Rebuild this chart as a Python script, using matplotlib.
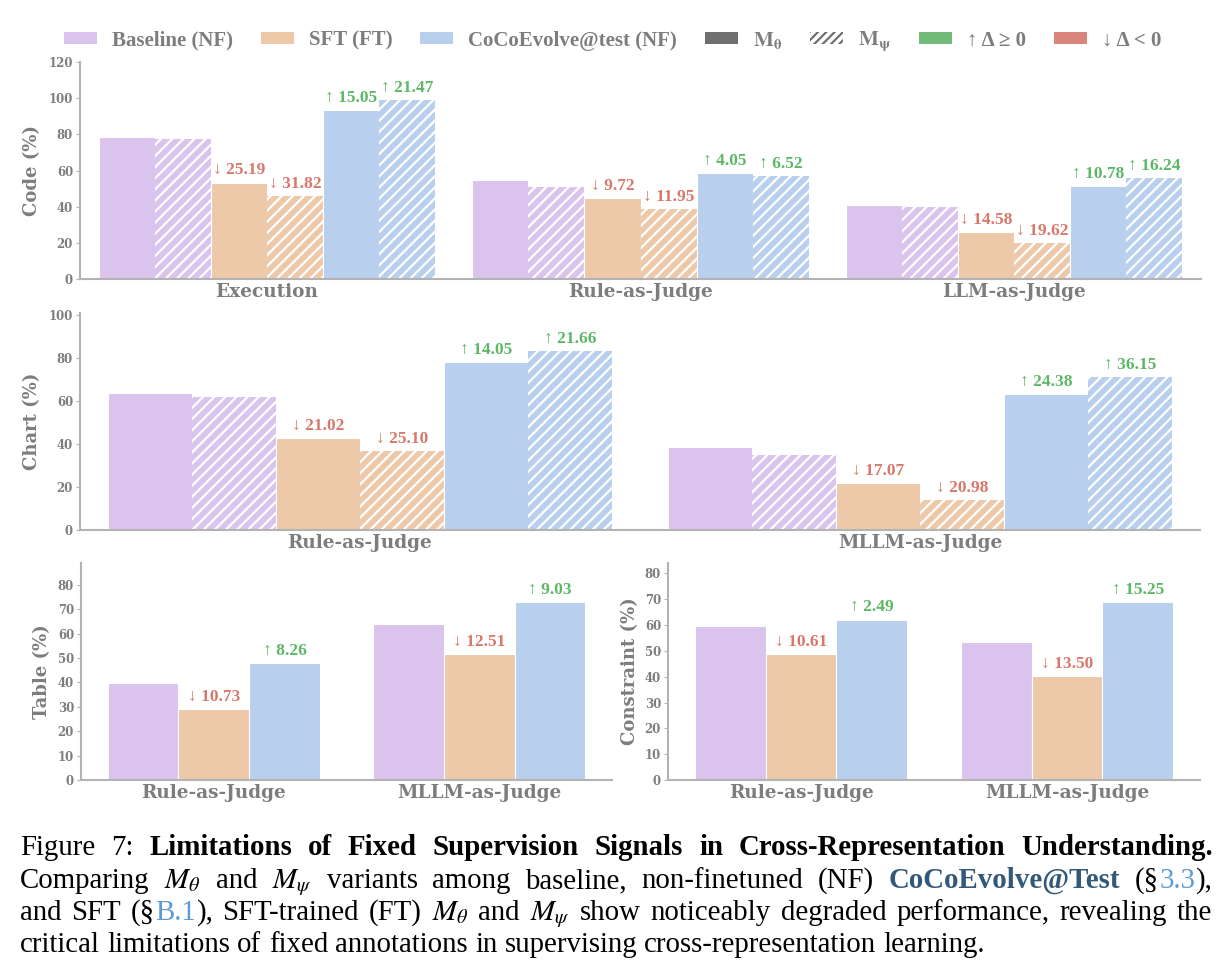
import matplotlib
matplotlib.use('Agg')
import matplotlib.pyplot as plt
from matplotlib.patches import Patch
from matplotlib.font_manager import FontProperties
import numpy as np

# ---------------- data ----------------
code_cats = ['Execution', 'Rule-as-Judge', 'LLM-as-Judge']
code_base_m0 = [78.5, 54.5, 40.8]
code_base_mpsi = [77.6, 50.6, 39.6]
code_sft_m0 = [53.3, 44.8, 26.2]
code_sft_mpsi = [45.8, 38.7, 20.0]
code_coco_m0 = [93.6, 58.6, 51.6]
code_coco_mpsi = [99.1, 57.1, 55.8]
code_d_sft_m0 = [-25.19, -9.72, -14.58]
code_d_sft_mpsi = [-31.82, -11.95, -19.62]
code_d_coco_m0 = [15.05, 4.05, 10.78]
code_d_coco_mpsi = [21.47, 6.52, 16.24]

chart_cats = ['Rule-as-Judge', 'MLLM-as-Judge']
chart_base_m0 = [63.9, 38.8]
chart_base_mpsi = [61.7, 34.9]
chart_sft_m0 = [42.9, 21.7]
chart_sft_mpsi = [36.6, 14.0]
chart_coco_m0 = [78.0, 63.1]
chart_coco_mpsi = [83.4, 71.0]
chart_d_sft_m0 = [-21.02, -17.07]
chart_d_sft_mpsi = [-25.10, -20.98]
chart_d_coco_m0 = [14.05, 24.38]
chart_d_coco_mpsi = [21.66, 36.15]

table_cats = ['Rule-as-Judge', 'MLLM-as-Judge']
table_base = [39.7, 64.0]
table_sft = [29.0, 51.5]
table_coco = [48.0, 73.0]
table_d_sft = [-10.73, -12.51]
table_d_coco = [8.26, 9.03]

cons_cats = ['Rule-as-Judge', 'MLLM-as-Judge']
cons_base = [59.6, 53.6]
cons_sft = [48.9, 40.1]
cons_coco = [62.1, 68.8]
cons_d_sft = [-10.61, -13.50]
cons_d_coco = [2.49, 15.25]

legend_labels = ['Baseline (NF)', 'SFT (FT)', 'CoCoEvolve@test (NF)',
                 r'$\mathbf{M_\theta}$', r'$\mathbf{M_\psi}$', '↑ Δ ≥ 0', '↓ Δ < 0']

# ---------------- style ----------------
C_BASE = '#dac3ec'
C_SFT = '#edc9aa'
C_COCO = '#b9cfee'
C_GREEN = '#5db866'
C_RED = '#d9776b'
GRAY = '#7d7d7d'
SPINE = '#b3b3b3'
SERIF = ['Liberation Serif', 'DejaVu Serif']

plt.rcParams['hatch.linewidth'] = 1.6

W, H = 1228, 975
fig = plt.figure(figsize=(W / 100, H / 100), dpi=100)


def ax_px(l, t, r, b):
    return fig.add_axes([l / W, 1 - b / H, (r - l) / W, (b - t) / H])


def style(ax, ylabel, ylim, yticks, xlim, cats, label_x):
    ax.set_xlim(*xlim)
    ax.set_ylim(*ylim)
    ax.set_yticks(yticks, labels=[str(v) for v in yticks], fontweight='bold',
                  family='DejaVu Serif', fontsize=8.5, color=GRAY)
    ax.set_xticks(np.arange(len(cats)), labels=cats, fontweight='bold',
                  family='DejaVu Serif', fontsize=13.3, color=GRAY)
    for s in ['top', 'right']:
        ax.spines[s].set_visible(False)
    for s in ['left', 'bottom']:
        ax.spines[s].set_color(SPINE)
        ax.spines[s].set_linewidth(1.5)
    ax.tick_params(axis='x', length=0, pad=3)
    ax.tick_params(axis='y', length=3, width=0.8, color=SPINE, pad=2)
    ax.set_ylabel(ylabel, fontsize=13, fontweight='bold', family='DejaVu Serif', color=GRAY)
    ax.yaxis.set_label_coords(label_x, 0.5)


def vlabels(ax, xs, ys, ds):
    for x, y, d in zip(xs, ys, ds):
        up = d >= 0
        s = ('↑ ' if up else '↓ ') + f'{abs(d):.2f}'
        ax.annotate(s, (x, y), xytext=(0, 3), textcoords='offset points',
                    ha='center', va='bottom', color=C_GREEN if up else C_RED,
                    fontsize=12.5, fontweight='bold', family=SERIF)


def six_bars(ax, cats, series, deltas):
    x = np.arange(len(cats))
    w = 0.15
    colors = [C_BASE, C_BASE, C_SFT, C_SFT, C_COCO, C_COCO]
    for i, vals in enumerate(series):
        xi = x + (i - 2.5) * w
        if i % 2 == 0:
            ax.bar(xi, vals, w, color=colors[i], edgecolor='white', linewidth=0.8)
        else:
            ax.bar(xi, vals, w, color=colors[i], edgecolor='white', linewidth=0.0, hatch='///')
        if deltas[i] is not None:
            vlabels(ax, xi, vals, deltas[i])


def three_bars(ax, cats, series, deltas):
    x = np.arange(len(cats))
    w = 0.8 / 3
    colors = [C_BASE, C_SFT, C_COCO]
    for i, vals in enumerate(series):
        xi = x + (i - 1) * w
        ax.bar(xi, vals, w, color=colors[i], edgecolor='white', linewidth=0.8)
        if deltas[i] is not None:
            vlabels(ax, xi, vals, deltas[i])


# top: Code
ax1 = ax_px(80, 62, 1201, 279)
six_bars(ax1, code_cats,
         [code_base_m0, code_base_mpsi, code_sft_m0, code_sft_mpsi, code_coco_m0, code_coco_mpsi],
         [None, None, code_d_sft_m0, code_d_sft_mpsi, code_d_coco_m0, code_d_coco_mpsi])
style(ax1, 'Code (%)', (0, 120), list(range(0, 121, 20)), (-0.5, 2.5), code_cats, -0.035)

# middle: Chart
ax2 = ax_px(80, 313, 1200, 530)
six_bars(ax2, chart_cats,
         [chart_base_m0, chart_base_mpsi, chart_sft_m0, chart_sft_mpsi, chart_coco_m0, chart_coco_mpsi],
         [None, None, chart_d_sft_m0, chart_d_sft_mpsi, chart_d_coco_m0, chart_d_coco_mpsi])
style(ax2, 'Chart (%)', (0, 101), list(range(0, 101, 20)), (-0.5, 1.5), chart_cats, -0.035)

# bottom left: Table
ax3 = ax_px(81, 563, 612, 780)
three_bars(ax3, table_cats, [table_base, table_sft, table_coco], [None, table_d_sft, table_d_coco])
style(ax3, 'Table (%)', (0, 89), list(range(0, 81, 10)), (-0.5, 1.5), table_cats, -0.056)

# bottom right: Constraint
ax4 = ax_px(668, 563, 1200, 780)
three_bars(ax4, cons_cats, [cons_base, cons_sft, cons_coco], [None, cons_d_sft, cons_d_coco])
style(ax4, 'Constraint (%)', (0, 84), list(range(0, 81, 10)), (-0.5, 1.5), cons_cats, -0.054)

# legend
handles = [Patch(facecolor=C_BASE, edgecolor='none'),
           Patch(facecolor=C_SFT, edgecolor='none'),
           Patch(facecolor=C_COCO, edgecolor='none'),
           Patch(facecolor='#6f6f6f', edgecolor='none'),
           Patch(facecolor='white', edgecolor='#6f6f6f', hatch='////', linewidth=0),
           Patch(facecolor='#72bb78', edgecolor='none'),
           Patch(facecolor='#d9857c', edgecolor='none')]
leg = fig.legend(handles, legend_labels, loc='center', bbox_to_anchor=(0.499, 0.9574),
                 ncol=7, frameon=False, prop=FontProperties(family=SERIF, weight='bold', size=15),
                 labelcolor=GRAY, handlelength=1.58, handleheight=0.53, handletextpad=0.72,
                 columnspacing=1.35, borderaxespad=0)
for t in leg.get_texts():
    t.set_math_fontfamily('stix')

# caption
renderer = fig.canvas.get_renderer()
CAP = 20.8
R = dict(family=SERIF, fontsize=CAP, color='black', math_fontfamily='stix')
B = dict(family=SERIF, fontsize=CAP, color='black', fontweight='bold')
TEAL = dict(family=SERIF, fontsize=CAP, color='#33597a', fontweight='bold')
BLUE = dict(family=SERIF, fontsize=CAP, color='#5b9bd5')


def words(text, kw):
    return [[(w, kw)] for w in text.split(' ')]


line1 = [[('Figure', R)], [('7:', R)]] + words(
    'Limitations of Fixed Supervision Signals in Cross-Representation Understanding.', B)
line2 = (words('Comparing', R) + [[(r'$M_\theta$', R)]] + words('and', R) + [[(r'$M_\psi$', R)]]
         + words('variants among baseline, non-finetuned (NF)', R) + [[('CoCoEvolve@Test', TEAL)]]
         + [[('(§', R), ('3.3', BLUE), ('),', R)]])
line3 = (words('and SFT', R) + [[('(§', R), ('B.1', BLUE), ('),', R)]]
         + words('SFT-trained (FT)', R) + [[(r'$M_\theta$', R)]] + words('and', R)
         + [[(r'$M_\psi$', R)]] + words('show noticeably degraded performance, revealing the', R))
line4 = words('critical limitations of fixed annotations in supervising cross-representation learning.', R)


def draw_line(wlist, y_px, x0=20, x1=None):
    objs, widths = [], []
    for w in wlist:
        segs, ww = [], 0
        for s, kw in w:
            t = fig.text(0, 1 - y_px / H, s, va='baseline', ha='left', **kw)
            wd = t.get_window_extent(renderer).width
            segs.append((t, wd))
            ww += wd
        objs.append(segs)
        widths.append(ww)
    if x1 is None:
        gap = 0.25 * CAP * 100 / 72
    else:
        gap = max((x1 - x0 - sum(widths)) / (len(wlist) - 1), 2)
    x = x0
    for segs, ww in zip(objs, widths):
        xx = x
        for t, wd in segs:
            t.set_x(xx / W)
            xx += wd
        x += ww + gap


draw_line(line1, 855, 20, 1213)
draw_line(line2, 888, 20, 1212)
draw_line(line3, 920, 20, 1212)
draw_line(line4, 952, 20, None)

fig.savefig('out.png', dpi=100)
